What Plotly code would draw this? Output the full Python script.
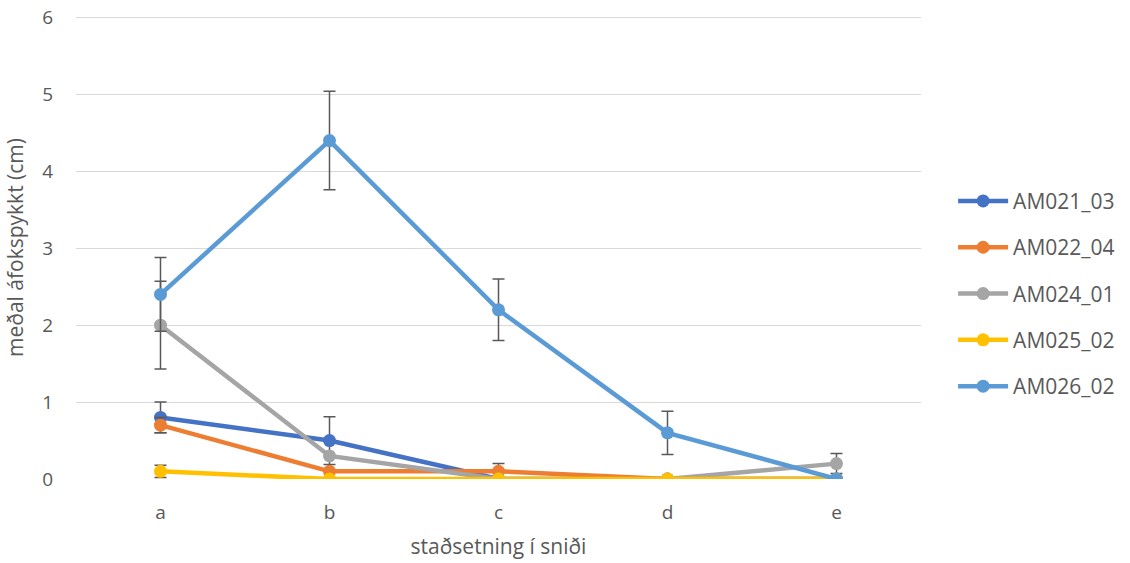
import plotly.graph_objects as go

categories = ["a", "b", "c", "d", "e"]
series_names = ["AM021_03", "AM022_04", "AM024_01", "AM025_02", "AM026_02"]
am021_03 = [0.8, 0.5, 0.0, 0.0, 0.0]
am022_04 = [0.7, 0.1, 0.1, 0.0, 0.0]
am024_01 = [2.0, 0.3, 0.0, 0.0, 0.2]
am025_02 = [0.1, 0.0, 0.0, 0.0, 0.0]
am026_02 = [2.4, 4.4, 2.2, 0.6, 0.0]
err021 = [0.2, 0.31, None, None, None]
err022 = [0.1, None, 0.1, None, None]
err024 = [0.57, None, None, None, 0.13]
err025 = [0.08, None, None, None, None]
err026 = [0.48, 0.64, 0.4, 0.28, None]
colors = ["#4472C4", "#ED7D31", "#A5A5A5", "#FFC000", "#5B9BD5"]

values = [am021_03, am022_04, am024_01, am025_02, am026_02]
errors = [err021, err022, err024, err025, err026]

font = "Open Sans, Liberation Sans, sans-serif"
fig = go.Figure()
for name, v, e, c in zip(series_names, values, errors, colors):
    fig.add_trace(go.Scatter(
        x=categories, y=v, name=name, mode="lines+markers",
        line=dict(color=c, width=4.5), marker=dict(color=c, size=13),
        error_y=dict(type="data", array=e, visible=True, color="#595959", thickness=1.5, width=6),
        legendgroup=name,
    ))

fig.update_layout(
    width=1130, height=563,
    margin=dict(l=76, r=209, t=16, b=84, autoexpand=False),
    plot_bgcolor="white", paper_bgcolor="white",
    font=dict(family=font, color="#595959", size=19),
    showlegend=True,
    legend=dict(x=1.038, xanchor="left", y=0.40, yanchor="middle",
                font=dict(size=21, color="#595959"), tracegroupgap=16,
                itemwidth=50),
    xaxis=dict(title=dict(text="staðsetning í sniði", font=dict(size=21), standoff=15),
               range=[-0.5, 4.5], automargin=False,
               showgrid=False, zeroline=False, showline=False,
               ticklabelstandoff=20, tickfont=dict(size=19)),
    yaxis=dict(title=dict(text="meðal áfokspykkt (cm)", font=dict(size=21), standoff=12),
               range=[0, 6.02], tickvals=[0, 1, 2, 3, 4, 5, 6],
               showgrid=True, gridcolor="#D9D9D9", gridwidth=1.3,
               automargin=False,
               zeroline=False, showline=False, ticklabelstandoff=22,
               tickfont=dict(size=19)),
)
fig.write_html("out.html", config={"displayModeBar": False},
               post_script="document.body.style.margin='0';document.body.style.overflow='hidden';")
